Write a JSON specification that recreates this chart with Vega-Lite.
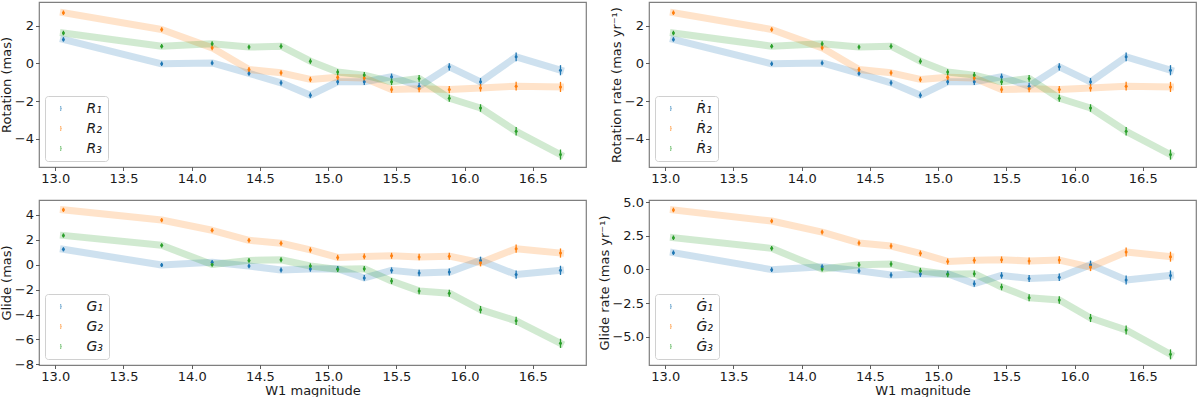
{
  "$schema": "https://vega.github.io/schema/vega-lite/v6.json",
  "padding": {"left": 0, "top": 1, "right": 0, "bottom": 0},
  "background": "white",
  "datasets": {
    "d": [
      {"mag": 13.06, "s": "1", "rot": 1.28, "rot_e": 0.12, "gl": 1.24, "gl_e": 0.17},
      {"mag": 13.78, "s": "1", "rot": -0.02, "rot_e": 0.12, "gl": -0.02, "gl_e": 0.17},
      {"mag": 14.15, "s": "1", "rot": 0.03, "rot_e": 0.13, "gl": 0.2, "gl_e": 0.18},
      {"mag": 14.42, "s": "1", "rot": -0.53, "rot_e": 0.13, "gl": -0.1, "gl_e": 0.19},
      {"mag": 14.655, "s": "1", "rot": -1.03, "rot_e": 0.14, "gl": -0.42, "gl_e": 0.2},
      {"mag": 14.87, "s": "1", "rot": -1.69, "rot_e": 0.14, "gl": -0.35, "gl_e": 0.21},
      {"mag": 15.07, "s": "1", "rot": -0.98, "rot_e": 0.15, "gl": -0.32, "gl_e": 0.22},
      {"mag": 15.265, "s": "1", "rot": -0.98, "rot_e": 0.16, "gl": -1.06, "gl_e": 0.23},
      {"mag": 15.465, "s": "1", "rot": -0.71, "rot_e": 0.17, "gl": -0.45, "gl_e": 0.24},
      {"mag": 15.667, "s": "1", "rot": -1.21, "rot_e": 0.18, "gl": -0.67, "gl_e": 0.26},
      {"mag": 15.888, "s": "1", "rot": -0.18, "rot_e": 0.19, "gl": -0.59, "gl_e": 0.28},
      {"mag": 16.117, "s": "1", "rot": -0.98, "rot_e": 0.2, "gl": 0.35, "gl_e": 0.3},
      {"mag": 16.378, "s": "1", "rot": 0.35, "rot_e": 0.23, "gl": -0.79, "gl_e": 0.33},
      {"mag": 16.703, "s": "1", "rot": -0.36, "rot_e": 0.27, "gl": -0.45, "gl_e": 0.37},
      {"mag": 13.06, "s": "2", "rot": 2.7, "rot_e": 0.12, "gl": 4.41, "gl_e": 0.17},
      {"mag": 13.78, "s": "2", "rot": 1.81, "rot_e": 0.12, "gl": 3.59, "gl_e": 0.17},
      {"mag": 14.15, "s": "2", "rot": 0.83, "rot_e": 0.13, "gl": 2.77, "gl_e": 0.18},
      {"mag": 14.42, "s": "2", "rot": -0.32, "rot_e": 0.13, "gl": 1.96, "gl_e": 0.19},
      {"mag": 14.655, "s": "2", "rot": -0.5, "rot_e": 0.14, "gl": 1.73, "gl_e": 0.2},
      {"mag": 14.87, "s": "2", "rot": -0.85, "rot_e": 0.14, "gl": 1.19, "gl_e": 0.21},
      {"mag": 15.07, "s": "2", "rot": -0.73, "rot_e": 0.15, "gl": 0.59, "gl_e": 0.22},
      {"mag": 15.265, "s": "2", "rot": -0.77, "rot_e": 0.16, "gl": 0.67, "gl_e": 0.23},
      {"mag": 15.465, "s": "2", "rot": -1.39, "rot_e": 0.17, "gl": 0.72, "gl_e": 0.24},
      {"mag": 15.667, "s": "2", "rot": -1.35, "rot_e": 0.18, "gl": 0.62, "gl_e": 0.26},
      {"mag": 15.888, "s": "2", "rot": -1.39, "rot_e": 0.19, "gl": 0.69, "gl_e": 0.28},
      {"mag": 16.117, "s": "2", "rot": -1.3, "rot_e": 0.2, "gl": 0.17, "gl_e": 0.3},
      {"mag": 16.378, "s": "2", "rot": -1.21, "rot_e": 0.23, "gl": 1.29, "gl_e": 0.33},
      {"mag": 16.703, "s": "2", "rot": -1.25, "rot_e": 0.27, "gl": 0.94, "gl_e": 0.37},
      {"mag": 13.06, "s": "3", "rot": 1.62, "rot_e": 0.12, "gl": 2.35, "gl_e": 0.17},
      {"mag": 13.78, "s": "3", "rot": 0.92, "rot_e": 0.12, "gl": 1.56, "gl_e": 0.17},
      {"mag": 14.15, "s": "3", "rot": 1.05, "rot_e": 0.13, "gl": 0.02, "gl_e": 0.18},
      {"mag": 14.42, "s": "3", "rot": 0.87, "rot_e": 0.13, "gl": 0.35, "gl_e": 0.19},
      {"mag": 14.655, "s": "3", "rot": 0.92, "rot_e": 0.14, "gl": 0.4, "gl_e": 0.2},
      {"mag": 14.87, "s": "3", "rot": 0.12, "rot_e": 0.14, "gl": -0.1, "gl_e": 0.21},
      {"mag": 15.07, "s": "3", "rot": -0.46, "rot_e": 0.15, "gl": -0.37, "gl_e": 0.22},
      {"mag": 15.265, "s": "3", "rot": -0.62, "rot_e": 0.16, "gl": -0.32, "gl_e": 0.23},
      {"mag": 15.465, "s": "3", "rot": -0.98, "rot_e": 0.17, "gl": -1.31, "gl_e": 0.24},
      {"mag": 15.667, "s": "3", "rot": -0.8, "rot_e": 0.18, "gl": -2.1, "gl_e": 0.26},
      {"mag": 15.888, "s": "3", "rot": -1.85, "rot_e": 0.19, "gl": -2.28, "gl_e": 0.28},
      {"mag": 16.117, "s": "3", "rot": -2.37, "rot_e": 0.2, "gl": -3.61, "gl_e": 0.3},
      {"mag": 16.378, "s": "3", "rot": -3.61, "rot_e": 0.23, "gl": -4.5, "gl_e": 0.33},
      {"mag": 16.703, "s": "3", "rot": -4.85, "rot_e": 0.27, "gl": -6.31, "gl_e": 0.37}
    ]
  },
  "data": {"name": "d"},
  "columns": 2,
  "spacing": {"row": 33, "column": 63},
  "bounds": "flush",
  "resolve": {"scale": {"color": "independent", "x": "independent", "y": "independent"}, "legend": {"color": "independent"}, "axis": {"x": "independent", "y": "independent"}},
  "concat": [
    {
      "width": 547, "height": 165,
      "layer": [
        {"mark": {"type": "line", "strokeWidth": 7, "strokeOpacity": 0.22, "strokeCap": "square", "strokeJoin": "round"},
         "encoding": {
           "x": {"field": "mag", "type": "quantitative", "scale": {"domain": [12.881, 16.89], "nice": false, "zero": false}, "axis": {"values": [13, 13.5, 14, 14.5, 15, 15.5, 16, 16.5], "format": ".1f"}, "title": null},
           "y": {"field": "rot", "type": "quantitative", "scale": {"domain": [-5.51, 3.27], "nice": false, "zero": false}, "axis": {"values": [-4, -2, 0, 2], "format": "d"}, "title": "Rotation (mas)"},
           "color": {"field": "s", "type": "nominal", "scale": {"range": ["#1f77b4", "#ff7f0e", "#2ca02c"]}}}},
        {"mark": {"type": "errorbar", "ticks": false, "thickness": 1.3},
         "encoding": {
           "x": {"field": "mag", "type": "quantitative", "title": null},
           "y": {"field": "rot", "type": "quantitative", "title": "Rotation (mas)"},
           "yError": {"field": "rot_e"},
           "color": {"field": "s", "type": "nominal"}}},
        {"mark": {"type": "point", "filled": true, "size": 9, "opacity": 1},
         "encoding": {
           "x": {"field": "mag", "type": "quantitative", "title": null},
           "y": {"field": "rot", "type": "quantitative", "title": "Rotation (mas)"},
           "color": {"field": "s", "type": "nominal", "legend": {"labelExpr": "'R' + (datum.label == '1' ? '₁' : datum.label == '2' ? '₂' : '₃')"}}}}
      ]
    },
    {
      "width": 547, "height": 165,
      "layer": [
        {"mark": {"type": "line", "strokeWidth": 7, "strokeOpacity": 0.22, "strokeCap": "square", "strokeJoin": "round"},
         "encoding": {
           "x": {"field": "mag", "type": "quantitative", "scale": {"domain": [12.881, 16.89], "nice": false, "zero": false}, "axis": {"values": [13, 13.5, 14, 14.5, 15, 15.5, 16, 16.5], "format": ".1f"}, "title": null},
           "y": {"field": "rot", "type": "quantitative", "scale": {"domain": [-5.51, 3.27], "nice": false, "zero": false}, "axis": {"values": [-4, -2, 0, 2], "format": "d"}, "title": "Rotation rate (mas yr⁻¹)"},
           "color": {"field": "s", "type": "nominal", "scale": {"range": ["#1f77b4", "#ff7f0e", "#2ca02c"]}}}},
        {"mark": {"type": "errorbar", "ticks": false, "thickness": 1.3},
         "encoding": {
           "x": {"field": "mag", "type": "quantitative", "title": null},
           "y": {"field": "rot", "type": "quantitative", "title": "Rotation rate (mas yr⁻¹)"},
           "yError": {"field": "rot_e"},
           "color": {"field": "s", "type": "nominal"}}},
        {"mark": {"type": "point", "filled": true, "size": 9, "opacity": 1},
         "encoding": {
           "x": {"field": "mag", "type": "quantitative", "title": null},
           "y": {"field": "rot", "type": "quantitative", "title": "Rotation rate (mas yr⁻¹)"},
           "color": {"field": "s", "type": "nominal", "legend": {"labelExpr": "'Ṙ' + (datum.label == '1' ? '₁' : datum.label == '2' ? '₂' : '₃')"}}}}
      ]
    },
    {
      "width": 547, "height": 165,
      "resolve": {"axis": {"y": "independent"}},
      "layer": [
        {"mark": {"type": "line", "strokeWidth": 7, "strokeOpacity": 0.22, "strokeCap": "square", "strokeJoin": "round"},
         "encoding": {
           "x": {"field": "mag", "type": "quantitative", "scale": {"domain": [12.881, 16.89], "nice": false, "zero": false}, "axis": {"values": [13, 13.5, 14, 14.5, 15, 15.5, 16, 16.5], "format": ".1f"}, "title": "W1 magnitude"},
           "y": {"field": "gl", "type": "quantitative", "scale": {"domain": [-8.05, 5.2], "nice": false, "zero": false}, "axis": {"values": [-8, -4, 0, 4], "format": "d", "orient": "left"}, "title": "Glide (mas)"},
           "color": {"field": "s", "type": "nominal", "scale": {"range": ["#1f77b4", "#ff7f0e", "#2ca02c"]}}}},
        {"mark": {"type": "errorbar", "ticks": false, "thickness": 1.3},
         "encoding": {
           "x": {"field": "mag", "type": "quantitative", "title": "W1 magnitude"},
           "y": {"field": "gl", "type": "quantitative", "axis": null},
           "yError": {"field": "gl_e"},
           "color": {"field": "s", "type": "nominal"}}},
        {"mark": {"type": "point", "filled": true, "size": 9, "opacity": 1},
         "encoding": {
           "x": {"field": "mag", "type": "quantitative", "title": "W1 magnitude"},
           "y": {"field": "gl", "type": "quantitative", "axis": {"values": [-6, -2, 2], "format": "d", "orient": "left", "title": null}},
           "color": {"field": "s", "type": "nominal", "legend": {"labelExpr": "'G' + (datum.label == '1' ? '₁' : datum.label == '2' ? '₂' : '₃')"}}}}
      ]
    },
    {
      "width": 547, "height": 165,
      "layer": [
        {"mark": {"type": "line", "strokeWidth": 7, "strokeOpacity": 0.22, "strokeCap": "square", "strokeJoin": "round"},
         "encoding": {
           "x": {"field": "mag", "type": "quantitative", "scale": {"domain": [12.881, 16.89], "nice": false, "zero": false}, "axis": {"values": [13, 13.5, 14, 14.5, 15, 15.5, 16, 16.5], "format": ".1f"}, "title": "W1 magnitude"},
           "y": {"field": "gl", "type": "quantitative", "scale": {"domain": [-7.1, 5.15], "nice": false, "zero": false}, "axis": {"values": [-5, -2.5, 0, 2.5, 5], "format": ".1f"}, "title": "Glide rate (mas yr⁻¹)"},
           "color": {"field": "s", "type": "nominal", "scale": {"range": ["#1f77b4", "#ff7f0e", "#2ca02c"]}}}},
        {"mark": {"type": "errorbar", "ticks": false, "thickness": 1.3},
         "encoding": {
           "x": {"field": "mag", "type": "quantitative", "title": "W1 magnitude"},
           "y": {"field": "gl", "type": "quantitative", "title": "Glide rate (mas yr⁻¹)"},
           "yError": {"field": "gl_e"},
           "color": {"field": "s", "type": "nominal"}}},
        {"mark": {"type": "point", "filled": true, "size": 9, "opacity": 1},
         "encoding": {
           "x": {"field": "mag", "type": "quantitative", "title": "W1 magnitude"},
           "y": {"field": "gl", "type": "quantitative", "title": "Glide rate (mas yr⁻¹)"},
           "color": {"field": "s", "type": "nominal", "legend": {"labelExpr": "'Ġ' + (datum.label == '1' ? '₁' : datum.label == '2' ? '₂' : '₃')"}}}}
      ]
    }
  ],
  "config": {
    "font": "DejaVu Sans",
    "view": {"stroke": "#7f7f7f", "strokeWidth": 1.2},
    "axis": {
      "domain": false, "grid": false, "ticks": true, "tickSize": 3.5, "tickColor": "#333333", "tickWidth": 0.8,
      "labelFont": "DejaVu Sans", "labelFontSize": 13, "labelColor": "#1a1a1a", "labelOverlap": false,
      "titleFont": "DejaVu Sans", "titleFontSize": 13, "titleFontWeight": "normal", "titleColor": "#1a1a1a"
    },
    "axisX": {"labelPadding": 1.5, "titlePadding": 1},
    "axisY": {"labelPadding": 2, "titlePadding": 0.5, "labelOverlap": false},
    "legend": {
      "orient": "bottom-left", "offset": 6, "padding": 5.5, "title": null,
      "fillColor": "rgba(255,255,255,0.8)", "strokeColor": "#d0d0d0", "cornerRadius": 3,
      "symbolType": "M0.59,-0.5H0.73V0.5H0.59Z M0.48,0A0.18,0.18 0 1 0 0.84,0A0.18,0.18 0 1 0 0.48,0Z",
      "symbolSize": 100, "symbolStrokeWidth": 0, "symbolOpacity": 1,
      "labelFont": "DejaVu Sans", "labelFontSize": 14, "labelFontStyle": "italic", "labelColor": "#1a1a1a", "labelOffset": 22, "rowPadding": 6
    }
  }
}
